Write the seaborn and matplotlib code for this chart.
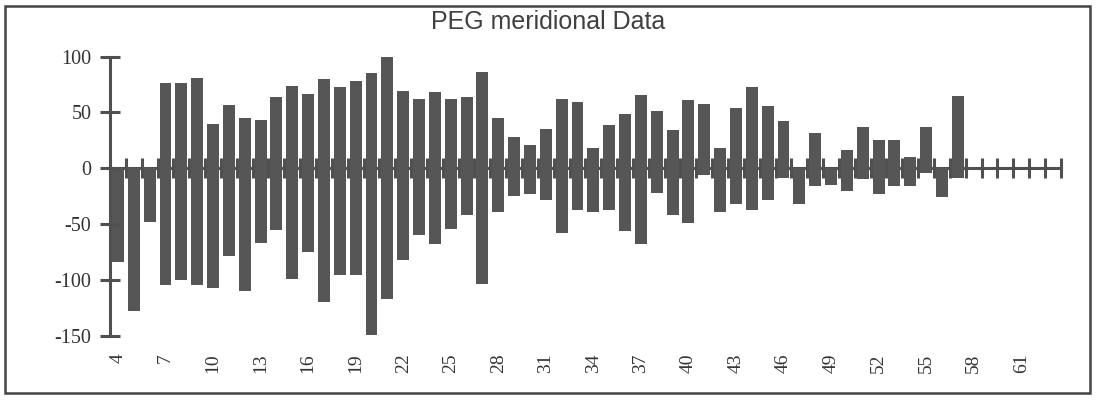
import numpy as np
import pandas as pd
import seaborn as sns
import matplotlib.pyplot as plt
from matplotlib.patches import Rectangle

# Categories 4..63 and the two halves of each bar
categories = list(range(4, 64))
north = [0, 0, 0, 76, 76, 81, 40, 57, 45, 43,
         64, 74, 67, 80, 73, 78, 85, 100, 69, 62,
         68, 62, 64, 86, 45, 28, 21, 35, 62, 59,
         18, 39, 49, 66, 51, 34, 61, 58, 18, 54,
         73, 56, 42, 0, 32, 0, 16, 37, 25, 25,
         10, 37, 0, 65, 0, 0, 0, 0, 0, 0]
south = [-84, -128, -48, -105, -100, -105, -107, -79, -110, -67,
         -55, -99, -75, -120, -96, -96, -149, -117, -82, -60,
         -68, -54, -42, -104, -39, -25, -23, -28, -58, -37,
         -39, -37, -56, -68, -22, -42, -49, -6, -39, -32,
         -37, -28, -9, -32, -16, -15, -20, -10, -23, -16,
         -16, -4, -26, -9, 0, 0, 0, 0, 0, 0]
label_cats = list(range(4, 62, 3))
y_ticks = [-150, -100, -50, 0, 50, 100]

df = pd.DataFrame({"category": [str(c) for c in categories],
                   "north": north, "south": south})
order = df["category"].tolist()

plt.rcParams["font.family"] = ["Liberation Serif", "DejaVu Serif"]

bar_col = "#565656"
axis_col = "#505050"

fig = plt.figure(figsize=(10.97, 4.01), dpi=100)
ax = fig.add_axes([0.1003, 0.163, 0.8667, 0.6956])

sns.barplot(data=df, x="category", y="north", order=order, color=bar_col,
            width=0.75, saturation=1, ax=ax)
sns.barplot(data=df, x="category", y="south", order=order, color=bar_col,
            width=0.75, saturation=1, ax=ax)

ax.set_xlim(-0.5, len(categories) - 0.5)
ax.set_ylim(-150, 100)
ax.set_xlabel("")
ax.set_ylabel("")

# y axis
ax.set_yticks(y_ticks)
ax.set_yticklabels([str(v) for v in y_ticks], fontsize=14.5, color="#333333")
ax.tick_params(axis="y", direction="inout", length=15, width=2.2,
               color=axis_col, pad=6)
ax.spines["left"].set_linewidth(2.2)
ax.spines["left"].set_color(axis_col)
for s in ["top", "right", "bottom"]:
    ax.spines[s].set_visible(False)

# x labels at the bottom, no marks
pos = [order.index(str(c)) for c in label_cats]
ax.set_xticks(pos)
ax.set_xticklabels([str(c) for c in label_cats], rotation=90,
                   fontsize=14, color="#333333")
ax.tick_params(axis="x", length=0, pad=13)

# zero line with ticks between categories
zero_loc = (0 - (-150)) / (100 - (-150))
sec = ax.secondary_xaxis(zero_loc)
sec.set_xticks(np.arange(-0.5, len(categories), 1.0))
sec.tick_params(axis="x", direction="inout", length=14, width=2.2,
                color=axis_col, labeltop=False, labelbottom=False)
for s in sec.spines.values():
    s.set_linewidth(2.2)
    s.set_color(axis_col)

# title and outer frame
fig.text(0.5, 0.945, "PEG meridional Data", ha="center", va="center",
         fontsize=18, color="#404040", family=["Liberation Sans", "DejaVu Sans"])
fig.add_artist(Rectangle((0.005, 0.02), 0.989, 0.965, transform=fig.transFigure,
                         fill=False, lw=1.8, ec="#444444"))

plt.savefig("out.png", dpi=100)
